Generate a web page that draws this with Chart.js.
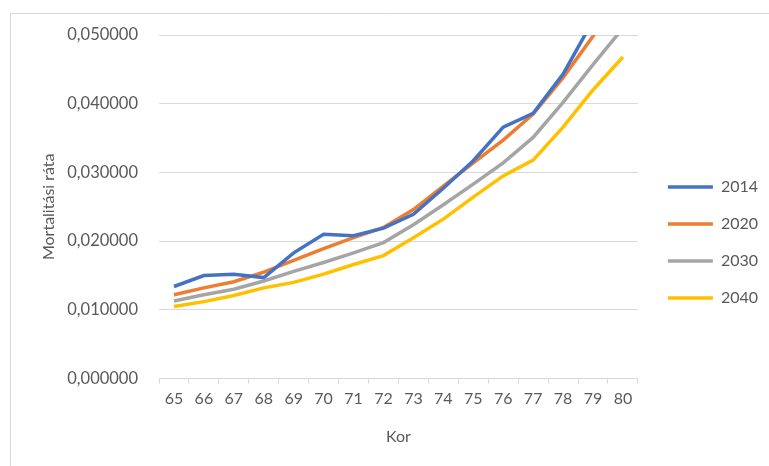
<!DOCTYPE html>
<html>
<head>
<meta charset="utf-8">
<script src="https://cdn.jsdelivr.net/npm/chart.js@4/dist/chart.umd.min.js"></script>
<style>
  html, body { margin: 0; padding: 0; background: #fff; }
  #wrap { width: 769px; height: 466px; position: relative; }
</style>
</head>
<body>
<div id="wrap"><canvas id="mort-chart"></canvas></div>
<script>
let ages = ['65', '66', '67', '68', '69', '70', '71', '72', '73', '74', '75', '76', '77', '78', '79', '80'];
let seriesNames = ['2014', '2020', '2030', '2040'];
let rate2014 = [0.0134, 0.0150, 0.0152, 0.0147, 0.0183, 0.0210, 0.0208, 0.0219, 0.0239, 0.0277, 0.0317, 0.0366, 0.0386, 0.0443, 0.0521, 0.0580];
let rate2020 = [0.0122, 0.0132, 0.0141, 0.0155, 0.0172, 0.0189, 0.0205, 0.0220, 0.0246, 0.0280, 0.0314, 0.0347, 0.0385, 0.0438, 0.0498, 0.0565];
let rate2030 = [0.0113, 0.0122, 0.0130, 0.0142, 0.0156, 0.0169, 0.0183, 0.0198, 0.0224, 0.0253, 0.0283, 0.0314, 0.0351, 0.0402, 0.0457, 0.0510];
let rate2040 = [0.0105, 0.0112, 0.0121, 0.0132, 0.0140, 0.0152, 0.0166, 0.0179, 0.0205, 0.0232, 0.0264, 0.0295, 0.0318, 0.0366, 0.0420, 0.0468];
let yTicks = [0, 0.01, 0.02, 0.03, 0.04, 0.05];
let colors = ['#4472C4', '#ED7D31', '#A5A5A5', '#FFC000'];

let textColor = '#595959';
let fontFamily = 'Lato, "Open Sans", sans-serif';

// thin frame of the excel chart area (only top and left show in the picture)
let framePlugin = {
  id: 'frame',
  beforeDraw: function (chart) {
    let c = chart.ctx;
    c.save();
    c.strokeStyle = '#d9d9d9';
    c.lineWidth = 1;
    c.beginPath();
    c.moveTo(10.5, chart.height + 5);
    c.lineTo(10.5, 13.5);
    c.lineTo(chart.width + 5, 13.5);
    c.stroke();
    c.restore();
  }
};

// a bit more room between plot and legend, legend items stay put
let legendGap = {
  id: 'legendGap',
  beforeLayout: function (chart) {
    let lg = chart.legend;
    if (lg && !lg._gapDone) {
      let fit = lg.fit;
      lg.fit = function () {
        fit.call(this);
        this.width += 9;
      };
      lg._gapDone = true;
    }
  },
  afterLayout: function (chart) {
    let lg = chart.legend;
    if (lg) {
      lg.left += 9;
      lg.top += 2;
      lg.bottom += 2;
    }
  }
};

let makeSet = function (i, values) {
  return {
    label: seriesNames[i],
    data: values,
    borderColor: colors[i],
    backgroundColor: colors[i],
    borderWidth: 3.5,
    pointRadius: 0,
    tension: 0,
    clip: 0
  };
};

let ctx = document.getElementById('mort-chart').getContext('2d');

let chart = new Chart(ctx, {
  type: 'line',
  data: {
    labels: ages,
    datasets: [
      makeSet(0, rate2014),
      makeSet(1, rate2020),
      makeSet(2, rate2030),
      makeSet(3, rate2040)
    ]
  },
  options: {
    responsive: true,
    maintainAspectRatio: false,
    animation: false,
    layout: {
      padding: { left: 39, top: 35, right: 1, bottom: 20 }
    },
    plugins: {
      tooltip: { enabled: false },
      legend: {
        position: 'right',
        align: 'center',
        labels: {
          color: textColor,
          font: { family: fontFamily, size: 16 },
          usePointStyle: true,
          pointStyle: 'line',
          pointStyleWidth: 45,
          padding: 21
        }
      }
    },
    scales: {
      x: {
        offset: true,
        grid: {
          drawOnChartArea: false,
          drawTicks: true,
          tickLength: 5,
          color: '#d9d9d9',
          offset: true
        },
        border: { display: true, color: '#d9d9d9' },
        ticks: {
          color: textColor,
          font: { family: fontFamily, size: 16 },
          maxRotation: 0,
          autoSkip: false,
          padding: 6
        },
        title: {
          display: true,
          text: 'Kor',
          color: textColor,
          font: { family: fontFamily, size: 16 },
          padding: { top: 12, bottom: 0 }
        }
      },
      y: {
        min: 0,
        max: 0.05,
        afterBuildTicks: function (axis) {
          axis.ticks = yTicks.map(function (v) { return { value: v }; });
        },
        afterFit: function (axis) {
          axis.width = 120;
        },
        grid: {
          color: '#d9d9d9',
          drawTicks: false
        },
        border: { display: false },
        ticks: {
          color: textColor,
          font: { family: fontFamily, size: 16.5 },
          padding: 21,
          callback: function (value) {
            return value.toFixed(6).replace('.', ',');
          }
        },
        title: {
          display: true,
          text: 'Mortalitási ráta',
          color: textColor,
          font: { family: fontFamily, size: 16 },
          padding: { top: 0, bottom: 0 }
        }
      }
    }
  },
  plugins: [framePlugin, legendGap]
});
</script>
</body>
</html>
